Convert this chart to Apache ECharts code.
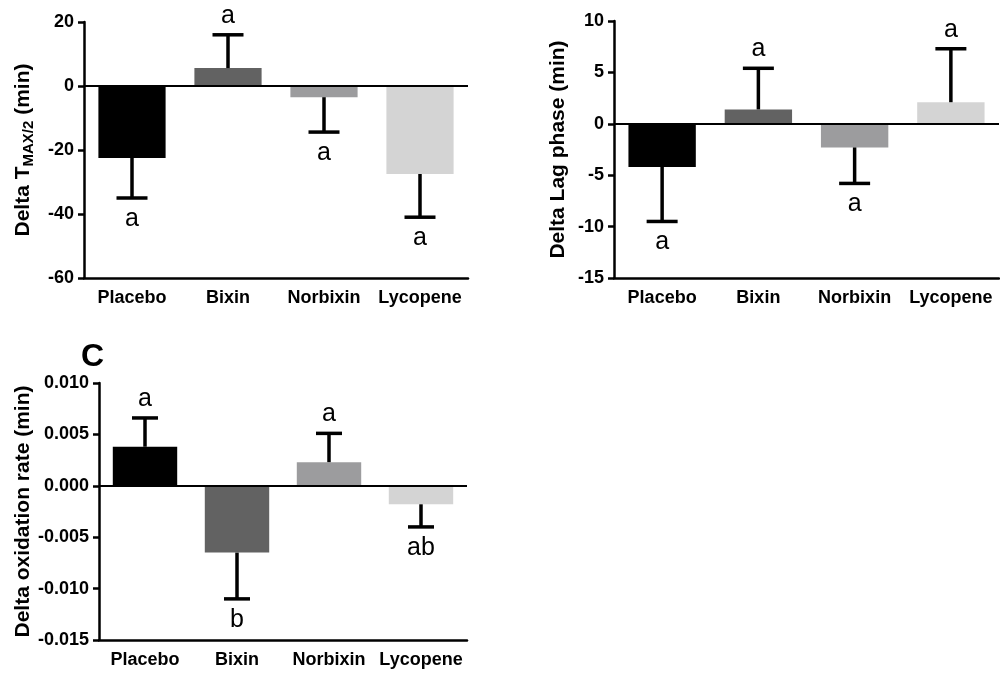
<!DOCTYPE html>
<html>
<head>
<meta charset="utf-8">
<title>Delta oxidation parameters</title>
<script src="https://cdn.jsdelivr.net/npm/echarts@6/dist/echarts.min.js"></script>
<style>
  html, body { margin: 0; padding: 0; background: #fff; }
  #chart { width: 1000px; height: 675px; }
</style>
</head>
<body>
<div id="chart"></div>
<script>
  var groups = ['Placebo', 'Bixin', 'Norbixin', 'Lycopene']

  // A: delta T max/2 (min)
  var tmaxMean = [-22.5, 5.6, -3.5, -27.5]
  var tmaxErr = [12.5, 10.4, 10.9, 13.5]
  var tmaxLetters = ['a', 'a', 'a', 'a']
  var tmaxTicks = [-60, -40, -20, 0, 20]

  // B: delta lag phase (min)
  var lagMean = [-4.2, 1.4, -2.3, 2.1]
  var lagErr = [5.3, 4.0, 3.5, 5.2]
  var lagLetters = ['a', 'a', 'a', 'a']
  var lagTicks = [-15, -10, -5, 0, 5, 10]

  // C: delta oxidation rate (min)
  var rateMean = [0.0038, -0.0065, 0.0023, -0.0018]
  var rateErr = [0.0028, 0.0045, 0.0028, 0.0022]
  var rateLetters = ['a', 'b', 'a', 'ab']
  var rateTicks = [-0.015, -0.010, -0.005, 0, 0.005, 0.010]

  var barColors = ['#000000', '#626262', '#9c9c9e', '#d4d4d4']
  var FONT = "'Liberation Sans', Arial, sans-serif"

  function yAxis (idx, ticks, name, gap, fmt) {
    return {
      type: 'value',
      gridIndex: idx,
      min: ticks[0],
      max: ticks[ticks.length - 1],
      interval: ticks[1] - ticks[0],
      name: name,
      nameLocation: 'middle',
      nameGap: gap,
      nameTextStyle: {
        color: '#000',
        fontFamily: FONT,
        fontWeight: 'bold',
        fontSize: 21,
        rich: {
          t: { fontFamily: FONT, fontWeight: 'bold', fontSize: 21, lineHeight: 26, color: '#000' },
          s: { fontFamily: FONT, fontWeight: 'bold', fontSize: 15, lineHeight: 15, verticalAlign: 'bottom', color: '#000' }
        }
      },
      splitLine: { show: false },
      axisLine: { show: true, lineStyle: { color: '#000', width: 2.5 } },
      axisTick: { show: true, length: 6, lineStyle: { color: '#000', width: 2.5 } },
      axisLabel: {
        color: '#000', fontFamily: FONT, fontWeight: 'bold', fontSize: 18, margin: 10,
        formatter: fmt
      }
    }
  }

  function xAxis (idx) {
    return {
      type: 'category',
      gridIndex: idx,
      data: groups,
      axisLine: { onZero: false, lineStyle: { color: '#000', width: 2.5 } },
      axisTick: { alignWithLabel: true, length: 6, lineStyle: { color: '#000', width: 2.5 } },
      axisLabel: { interval: 0, color: '#000', fontFamily: FONT, fontWeight: 'bold', fontSize: 18, margin: 11 }
    }
  }

  function barSeries (idx, mean) {
    return {
      type: 'bar',
      xAxisIndex: idx,
      yAxisIndex: idx,
      barWidth: '70%',
      data: mean.map(function (v, i) {
        return { value: v, itemStyle: { color: barColors[i] } }
      }),
      markLine: {
        silent: true,
        symbol: ['none', 'none'],
        label: { show: false },
        lineStyle: { type: 'solid', color: '#000', width: 2 },
        data: [{ yAxis: 0 }]
      }
    }
  }

  // one-sided error bar + significance letter
  function errorSeries (idx, mean, err, letters, capWidth) {
    return {
      type: 'custom',
      xAxisIndex: idx,
      yAxisIndex: idx,
      z: 5,
      data: mean.map(function (m, i) {
        return [i, m, m < 0 ? m - err[i] : m + err[i]]
      }),
      encode: { x: 0, y: [1, 2] },
      renderItem: function (params, api) {
        var base = api.coord([api.value(0), api.value(1)])
        var end = api.coord([api.value(0), api.value(2)])
        var down = end[1] > base[1]
        var st = { stroke: '#000', lineWidth: 3.5 }
        return {
          type: 'group',
          children: [
            { type: 'line', shape: { x1: base[0], y1: base[1], x2: end[0], y2: end[1] }, style: st },
            { type: 'line', shape: { x1: end[0] - capWidth / 2, y1: end[1], x2: end[0] + capWidth / 2, y2: end[1] }, style: st },
            {
              type: 'text',
              x: end[0],
              y: down ? end[1] + 21 : end[1] - 19,
              style: {
                text: letters[params.dataIndex],
                fill: '#000',
                fontFamily: FONT,
                fontSize: 25,
                align: 'center',
                verticalAlign: 'middle'
              }
            }
          ]
        }
      }
    }
  }

  var chart = echarts.init(document.getElementById('chart'))
  chart.setOption({
    animation: false,
    backgroundColor: '#fff',
    grid: [
      { left: 84, top: 22, width: 384, height: 256 },
      { left: 614, top: 21, width: 385, height: 257 },
      { left: 99, top: 383, width: 368, height: 257 }
    ],
    xAxis: [xAxis(0), xAxis(1), xAxis(2)],
    yAxis: [
      yAxis(0, tmaxTicks, '{t|Delta T}{s|MAX/2}{t| (min)}', 48),
      yAxis(1, lagTicks, 'Delta Lag phase (min)', 45),
      yAxis(2, rateTicks, 'Delta oxidation rate (min)', 64, function (v) {
        return Math.abs(v) < 1e-9 ? '0.000' : v.toFixed(3)
      })
    ],
    graphic: [{
      type: 'text',
      left: 81,
      top: 341,
      style: { text: 'C', fill: '#000', fontFamily: FONT, fontWeight: 'bold', fontSize: 32 }
    }],
    series: [
      barSeries(0, tmaxMean),
      errorSeries(0, tmaxMean, tmaxErr, tmaxLetters, 31),
      barSeries(1, lagMean),
      errorSeries(1, lagMean, lagErr, lagLetters, 31),
      barSeries(2, rateMean),
      errorSeries(2, rateMean, rateErr, rateLetters, 26)
    ]
  })
</script>
</body>
</html>
